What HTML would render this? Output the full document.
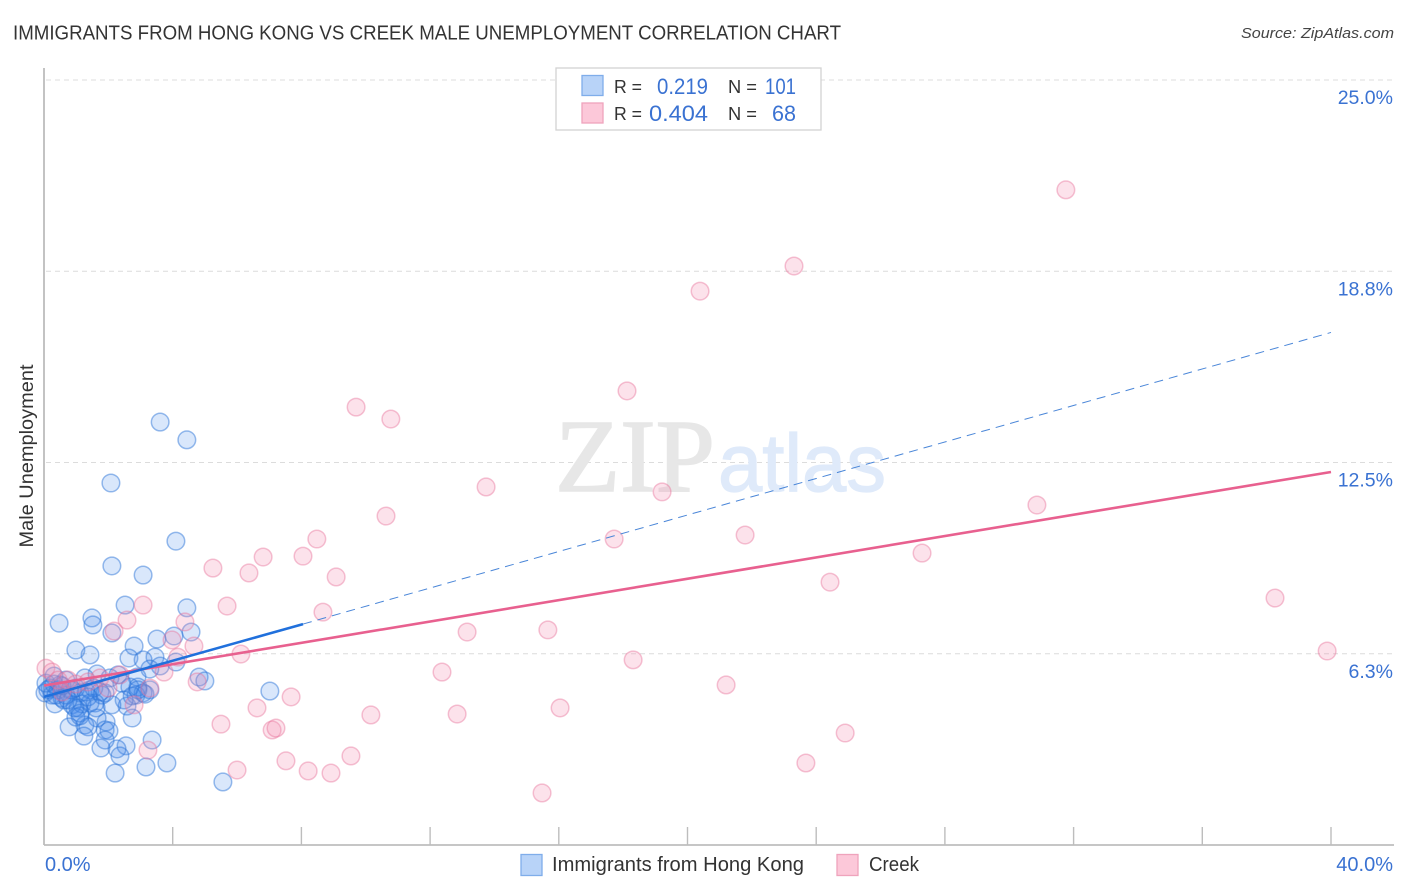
<!DOCTYPE html>
<html lang="en">
<head>
<meta charset="utf-8">
<title>Immigrants from Hong Kong vs Creek Male Unemployment Correlation Chart</title>
<style>
html,body{margin:0;padding:0;background:#fff;}
svg{display:block;font-family:"Liberation Sans",sans-serif;}
</style>
</head>
<body>
<svg id="chart" xmlns="http://www.w3.org/2000/svg" width="1406" height="892" viewBox="0 0 1406 892">
  <rect x="0" y="0" width="1406" height="892" fill="#ffffff"/>
  <text x="13" y="39.5" font-size="20" fill="#333333" textLength="828" lengthAdjust="spacingAndGlyphs">IMMIGRANTS FROM HONG KONG VS CREEK MALE UNEMPLOYMENT CORRELATION CHART</text>
  <text x="1394" y="38" font-size="15" font-style="italic" fill="#444444" text-anchor="end" textLength="153" lengthAdjust="spacingAndGlyphs">Source: ZipAtlas.com</text>
  <g id="grid"></g>
  <g>
    <text x="555" y="491" font-family="'Liberation Serif',serif" font-size="104" fill="#e7e7e7" stroke="#e7e7e7" stroke-width="1.6" textLength="160" lengthAdjust="spacingAndGlyphs">ZIP</text>
    <text x="718" y="491" font-size="82" fill="#dfeafa" stroke="#dfeafa" stroke-width="1.2" textLength="168" lengthAdjust="spacingAndGlyphs">atlas</text>
  </g>
  <g id="axes">
    <line x1="44" y1="68" x2="44" y2="845" stroke="#b4b4b4" stroke-width="1.6"/>
    <line x1="44" y1="845" x2="1394" y2="845" stroke="#b4b4b4" stroke-width="1.6"/>
  </g>
  <g id="series-blue"></g>
  <g id="series-pink"></g>
  <g id="trends"></g>
  <g id="labels"></g>
  <text transform="translate(33,456) rotate(-90)" font-size="19" fill="#333333" text-anchor="middle" textLength="183" lengthAdjust="spacingAndGlyphs">Male Unemployment</text>
  <g>
    <rect x="556" y="68" width="265" height="62" fill="#ffffff" stroke="#d2d2d2" stroke-width="1.3"/>
    <rect x="582" y="75.5" width="21" height="20" fill="#b8d3f8" stroke="#7fadea" stroke-width="1.3"/>
    <rect x="582" y="103" width="21" height="20" fill="#fcc8d9" stroke="#efa3bc" stroke-width="1.3"/>
    <text x="614" y="93" font-size="18" fill="#333333" textLength="28" lengthAdjust="spacingAndGlyphs">R =</text>
    <text x="657" y="94" font-size="22" fill="#3a72d2" textLength="51" lengthAdjust="spacingAndGlyphs">0.219</text>
    <text x="728" y="93" font-size="18" fill="#333333" textLength="29" lengthAdjust="spacingAndGlyphs">N =</text>
    <text x="765" y="94" font-size="22" fill="#3a72d2" textLength="31" lengthAdjust="spacingAndGlyphs">101</text>
    <text x="614" y="120" font-size="18" fill="#333333" textLength="28" lengthAdjust="spacingAndGlyphs">R =</text>
    <text x="649" y="121" font-size="22" fill="#3a72d2" textLength="59" lengthAdjust="spacingAndGlyphs">0.404</text>
    <text x="728" y="120" font-size="18" fill="#333333" textLength="29" lengthAdjust="spacingAndGlyphs">N =</text>
    <text x="772" y="121" font-size="22" fill="#3a72d2" textLength="24" lengthAdjust="spacingAndGlyphs">68</text>
  </g>
  <g>
    <g>
      <rect x="521" y="854.5" width="21" height="21" fill="#b8d3f8" stroke="#7fadea" stroke-width="1.3"/>
      <text x="552" y="871" font-size="20" fill="#333333" textLength="252" lengthAdjust="spacingAndGlyphs">Immigrants from Hong Kong</text>
    </g>
    <g>
      <rect x="837" y="854.5" width="21" height="21" fill="#fcc8d9" stroke="#efa3bc" stroke-width="1.3"/>
      <text x="869" y="871" font-size="20" fill="#333333" textLength="50" lengthAdjust="spacingAndGlyphs">Creek</text>
    </g>
  </g>
</svg>
<script>
var yTickValues = [6.25, 12.5, 18.75, 25];
var yTickLabels = ["6.3%", "12.5%", "18.8%", "25.0%"];
var xTickValues = [0, 4, 8, 12, 16, 20, 24, 28, 32, 36, 40];
var xEndValues = [0, 40];
var xEndLabels = ["0.0%", "40.0%"];

var blueX = [3.61,4.44,2.08,4.10,2.11,3.08,2.52,4.44,1.49,1.52,0.47,2.11,4.57,4.04,3.51,0.99,1.43,2.80,2.64,3.45,3.08,4.10,3.61,3.29,4.82,5.00,7.02,2.89,2.30,1.65,2.05,1.27,0.68,0.31,0.19,0.44,0.03,0.25,0.56,0.87,1.12,1.43,1.74,1.90,2.42,2.67,2.92,3.08,3.29,2.86,2.58,2.49,0.34,0.62,0.87,1.06,1.18,1.59,1.12,1.43,1.93,2.74,1.65,0.78,1.27,1.37,1.90,1.24,2.02,3.36,2.55,2.27,1.77,1.90,2.36,2.21,3.17,3.82,5.56,3.14,0.99,1.12,0.96,0.81,0.50,0.12,0.37,0.68,0.99,1.31,1.55,1.80,2.11,2.74,2.92,0.06,0.56,0.31,0.75,1.37,1.62];
var blueY = [13.82,13.24,11.83,9.93,9.12,8.82,7.84,7.75,7.42,7.19,7.25,6.93,6.96,6.83,6.73,6.37,6.21,6.50,6.11,6.14,6.05,5.98,5.85,5.75,5.49,5.36,5.03,5.49,5.56,5.59,5.46,5.46,5.39,5.52,5.13,5.07,4.97,4.90,4.80,5.07,4.97,5.07,5.00,4.97,5.29,5.16,5.16,4.97,5.07,4.90,4.54,4.74,4.61,4.74,4.58,4.48,4.61,4.64,4.31,4.64,4.02,4.15,4.15,3.86,3.92,3.86,3.76,3.56,3.73,3.43,3.24,3.14,3.17,3.43,2.91,2.35,2.55,2.68,2.06,4.93,4.18,4.22,4.48,5.07,5.23,5.07,4.90,4.90,5.13,5.00,5.13,4.90,4.58,4.87,5.07,5.29,5.20,5.26,4.74,4.84,4.48];

var pinkX = [31.76,23.31,20.39,18.12,9.70,10.78,13.74,19.21,10.63,30.86,17.72,21.79,8.48,6.81,8.05,5.25,6.37,9.08,24.43,27.29,38.26,3.08,5.69,8.67,2.58,4.38,2.18,3.98,4.66,13.15,15.66,39.88,18.31,6.12,12.37,4.16,3.73,21.20,4.76,7.68,16.04,6.62,10.16,12.84,5.50,7.09,7.21,24.90,9.54,7.52,3.23,6.00,8.21,8.92,23.68,15.48,2.80,0.06,0.25,0.44,0.75,0.99,1.37,1.74,2.36,1.99,3.29,0.56];
var pinkY = [21.41,18.92,18.10,14.84,14.31,13.92,11.70,11.54,10.75,11.11,10.00,10.13,10.00,9.41,9.44,9.05,8.89,8.76,8.59,9.54,8.07,7.84,7.81,7.61,7.35,7.29,6.99,6.70,6.50,6.96,7.03,6.34,6.05,6.24,5.65,6.14,5.65,5.23,5.33,4.84,4.48,4.48,4.25,4.28,3.95,3.76,3.82,3.66,2.91,2.75,3.10,2.45,2.42,2.35,2.68,1.70,4.58,5.78,5.65,5.39,5.39,5.26,5.33,5.46,5.56,5.13,5.13,5.00];

var blueTrendX = [0, 8.05, 40];
var blueTrendY = [4.84, 7.22, 16.75];
var pinkTrendX = [0, 40];
var pinkTrendY = [5.21, 12.19];

var NS = "http://www.w3.org/2000/svg";
function xScale(v) { return 44 + v * (1331 - 44) / 40; }
function yScale(v) { return 845 - v * (845 - 80) / 25; }
function make(tag, attrs, parent) {
  var el = document.createElementNS(NS, tag);
  for (var k in attrs) el.setAttribute(k, attrs[k]);
  parent.appendChild(el);
  return el;
}

var gridG = document.getElementById("grid");
var axesG = document.getElementById("axes");
var labelsG = document.getElementById("labels");
var blueG = document.getElementById("series-blue");
var pinkG = document.getElementById("series-pink");
var trendsG = document.getElementById("trends");

yTickValues.forEach(function (v, i) {
  var g = make("line", {x1: 46, x2: 1394, y1: yScale(v), y2: yScale(v), stroke: "#dcdcdc", "stroke-width": 1, "stroke-dasharray": "5 4"}, gridG);
  
  
  var t = make("text", {x: 1393, y: yScale(v) + 24, "font-size": 19.5, fill: "#3a72d2", "text-anchor": "end"}, labelsG);
  t.textContent = yTickLabels[i];
  
  
});

xTickValues.forEach(function (v) {
  var tk = make("line", {x1: xScale(v), x2: xScale(v), y1: 827, y2: 845, stroke: "#bdbdbd", "stroke-width": 1.4}, axesG);
  
  
});

xEndValues.forEach(function (v, i) {
  var t = make("text", {x: i === 0 ? xScale(v) + 1 : 1393, y: 871, "font-size": 20, fill: "#3a72d2", "text-anchor": i === 0 ? "start" : "end"}, labelsG);
  t.textContent = xEndLabels[i];
  
  
});

blueX.forEach(function (v, i) {
  var c = make("circle", {cx: xScale(v), cy: yScale(blueY[i]), r: 8.8, fill: "#3f86ea", "fill-opacity": 0.2, stroke: "#2a72d8", "stroke-opacity": 0.48, "stroke-width": 1.5}, blueG);
  
  
});

pinkX.forEach(function (v, i) {
  var c = make("circle", {cx: xScale(v), cy: yScale(pinkY[i]), r: 8.8, fill: "#f48fb1", "fill-opacity": 0.26, stroke: "#e86f98", "stroke-opacity": 0.42, "stroke-width": 1.5}, pinkG);
  
  
});

var pinkTrend = make("line", {x1: xScale(pinkTrendX[0]), y1: yScale(pinkTrendY[0]), x2: xScale(pinkTrendX[1]), y2: yScale(pinkTrendY[1]), stroke: "#e8608f", "stroke-width": 2.6}, trendsG);



var blueSolid = make("line", {x1: xScale(blueTrendX[0]), y1: yScale(blueTrendY[0]), x2: xScale(blueTrendX[1]), y2: yScale(blueTrendY[1]), stroke: "#2070dc", "stroke-width": 2.6}, trendsG);



var blueDash = make("line", {x1: xScale(blueTrendX[1]), y1: yScale(blueTrendY[1]), x2: xScale(blueTrendX[2]), y2: yScale(blueTrendY[2]), stroke: "#4a86d8", "stroke-width": 1, "stroke-dasharray": "9 6"}, trendsG);


</script>
</body>
</html>
